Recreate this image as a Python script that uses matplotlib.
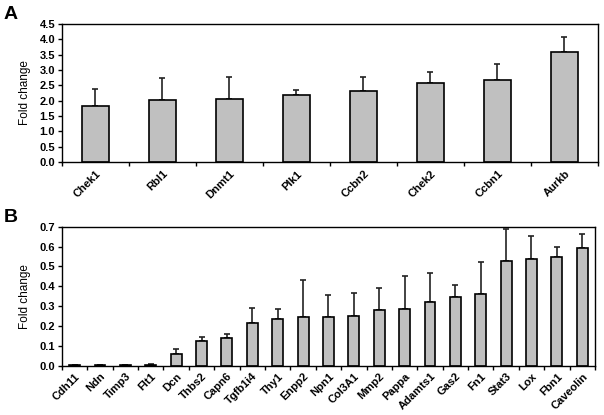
import matplotlib
matplotlib.use("Agg")
import matplotlib.pyplot as plt
import numpy as np

plt.rcParams['font.family'] = ['Liberation Sans', 'DejaVu Sans']

genes_a = ["Chek1", "Rbl1", "Dnmt1", "Plk1", "Ccbn2", "Chek2", "Ccbn1", "Aurkb"]
vals_a = [1.83, 2.01, 2.04, 2.18, 2.33, 2.56, 2.67, 3.60]
err_a = [0.56, 0.73, 0.72, 0.17, 0.45, 0.36, 0.51, 0.48]
yticks_a = [0.0, 0.5, 1.0, 1.5, 2.0, 2.5, 3.0, 3.5, 4.0, 4.5]

genes_b = ["Cdh11", "Ndn", "Timp3", "Flt1", "Dcn", "Thbs2", "Capn6", "Tgfb1i4",
           "Thy1", "Enpp2", "Npn1", "Col3A1", "Mmp2", "Pappa", "Adamts1", "Gas2",
           "Fn1", "Stat3", "Lox", "Fbn1", "Caveolin"]
vals_b = [0.001, 0.001, 0.004, 0.006, 0.060, 0.123, 0.139, 0.217,
          0.233, 0.243, 0.247, 0.252, 0.279, 0.287, 0.322, 0.346,
          0.359, 0.529, 0.536, 0.549, 0.591]
err_b = [0.0, 0.0, 0.0, 0.003, 0.026, 0.023, 0.020, 0.072,
         0.052, 0.187, 0.107, 0.114, 0.110, 0.165, 0.146, 0.060,
         0.161, 0.158, 0.119, 0.049, 0.072]
yticks_b = [0.0, 0.1, 0.2, 0.3, 0.4, 0.5, 0.6, 0.7]

fig = plt.figure(figsize=(6.04, 4.15), dpi=100)
axA = fig.add_axes([0.1026, 0.610, 0.8874, 0.332])
axB = fig.add_axes([0.1026, 0.1188, 0.8824, 0.3349])

def draw(ax, genes, vals, errs, yticks, width, pad):
    x = np.arange(len(genes))
    ax.bar(x, vals, width=width, color="#c0c0c0", edgecolor="black", linewidth=1.2, zorder=2)
    ax.errorbar(x, vals, yerr=[np.zeros(len(errs)), errs], fmt='none', ecolor="#222222",
                elinewidth=1.2, capsize=2, capthick=1.2, zorder=1)
    ax.set_xlim(-0.5, len(genes) - 0.5)
    ax.set_ylim(yticks[0], yticks[-1])
    ax.set_yticks(yticks)
    ax.set_yticklabels([f"{t:.1f}" for t in yticks], fontsize=8, fontweight='bold')
    ax.set_xticks(np.arange(len(genes) + 1) - 0.5, minor=False)
    ax.set_xticklabels([])
    ax.set_xticks(x, minor=True)
    ax.set_xticklabels(genes, minor=True, rotation=45, ha='right', rotation_mode='anchor',
                       fontsize=8, fontweight='bold')
    ax.tick_params(axis='x', which='minor', length=0, pad=pad)
    ax.tick_params(axis='x', which='major', direction='out', length=3, width=1)
    ax.tick_params(axis='y', direction='out', length=3, width=1, pad=2)
    for s in ax.spines.values():
        s.set_linewidth(1.0)
    ax.set_ylabel("Fold change", fontsize=8.5, labelpad=6)

draw(axA, genes_a, vals_a, err_a, yticks_a, 0.41, 5)
draw(axB, genes_b, vals_b, err_b, yticks_b, 0.43, 4)

fig.text(0.006, 0.955, "A", fontsize=14, fontweight='bold')
fig.text(0.006, 0.465, "B", fontsize=14, fontweight='bold')

fig.savefig("out.png", dpi=100)
